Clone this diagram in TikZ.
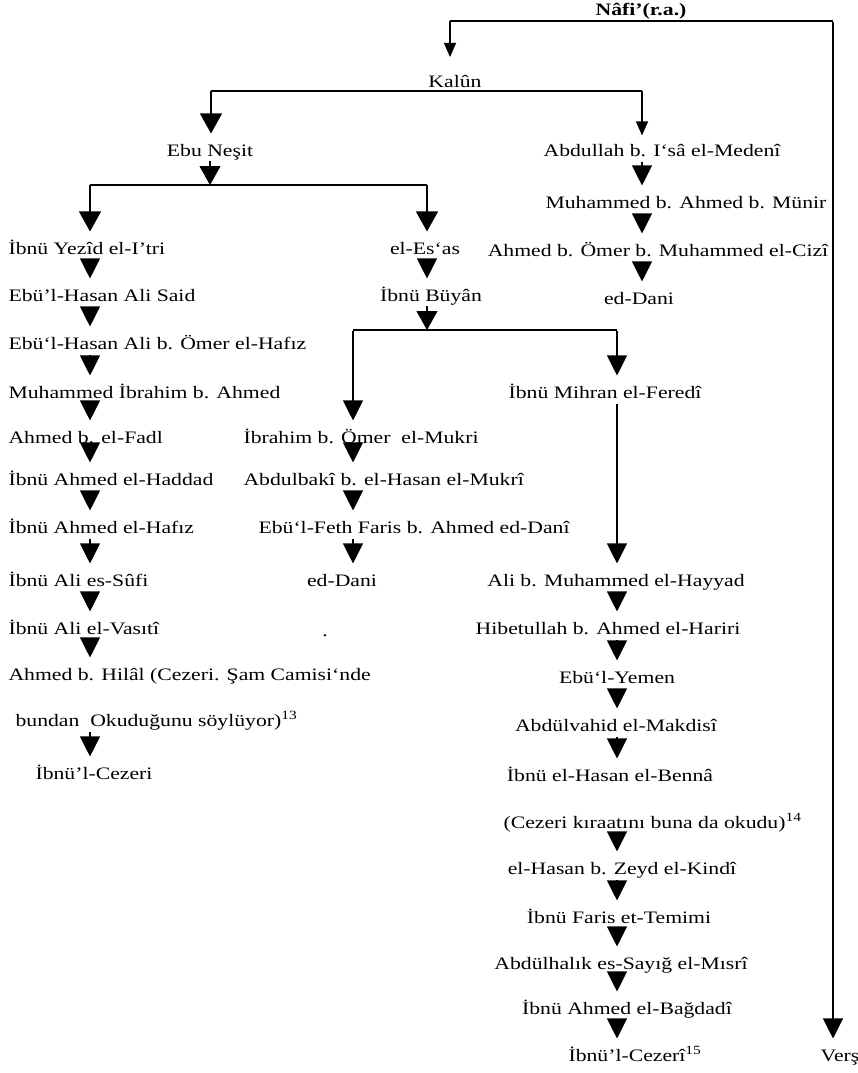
\documentclass[tikz,border=0pt]{standalone}
\usepackage{fontspec}
\setmainfont{Liberation Serif}[FakeStretch=1.24]
\usetikzlibrary{arrows.meta}
\newcommand{\fnmark}[1]{\raisebox{6.5pt}{\fontsize{12.5}{12.5}\selectfont #1}}
\begin{document}
\begin{tikzpicture}[x=1pt,y=-1pt,line width=1.1pt,
  font=\fontsize{17.5}{20}\selectfont,
  t/.style={inner sep=0pt,text height=12pt,text depth=4pt},
  tw/.style={t,anchor=west},
  ar/.style={-{Triangle[length=20pt,width=20pt]},shorten >=10pt,shorten <=1pt},
  arb/.style={-{Triangle[length=20pt,width=22pt]},shorten >=10pt},
  ars/.style={-{Triangle[length=14pt,width=12pt]}},
  tri/.style={-{Triangle[length=19pt,width=21pt]}}]
\fill[white] (0,0) rectangle (858,1073);
\useasboundingbox (0,0) rectangle (858,1073);
% columns
\coordinate (cL) at (90,0);
\coordinate (cM) at (427,0);
\coordinate (cR) at (642,0);
\coordinate (cB) at (353,0);
\coordinate (cC) at (617,0);
% top
\node[t] (nafi) at (641,12) {\bfseries Nâfi’(r.a.)};
\node[t] (kalun) at (455,83) {Kalûn};
\node[t] (ebu) at (210,152) {Ebu Neşit};
\node[t] (abd) at (662,152) {Abdullah b. I‘sâ el-Medenî};
\node[t] (munir) at (686,204) {Muhammed b. Ahmed b. Münir};
\node[t] (cizi) at (658,252) {Ahmed b. Ömer b. Muhammed el-Cizî};
\node[t] (dani1) at (639,300) {ed-Dani};
% left chain
\node[tw] (yezid) at (8,250) {İbnü Yezîd el-I’tri};
\node[tw] (said) at (8,297) {Ebü’l-Hasan Ali Said};
\node[tw] (hafiz1) at (8,345) {Ebü‘l-Hasan Ali b. Ömer el-Hafız};
\node[tw] (mibr) at (8,394) {Muhammed İbrahim b. Ahmed};
\node[tw] (fadl) at (8,439) {Ahmed b. el-Fadl};
\node[tw] (haddad) at (8,481) {İbnü Ahmed el-Haddad};
\node[tw] (hafiz2) at (8,529) {İbnü Ahmed el-Hafız};
\node[tw] (sufi) at (8,582) {İbnü Ali es-Sûfi};
\node[tw] (vasiti) at (8,630) {İbnü Ali el-Vasıtî};
\node[tw] (hilal) at (8,676) {Ahmed b. Hilâl (Cezeri. Şam Camisi‘nde};
\node[tw] (bundan) at (15,722) {bundan~ Okuduğunu söylüyor)\fnmark{13}};
\node[tw] (cezL) at (35,775) {İbnü’l-Cezeri};
% middle
\node[t] (eses) at (425,250) {el-Es‘as};
\node[t] (buyan) at (431,297) {İbnü Büyân};
\node[tw] (ibrahim) at (243,439) {İbrahim b. Ömer~ el-Mukri};
\node[tw] (baki) at (243,481) {Abdulbakî b. el-Hasan el-Mukrî};
\node[tw] (feth) at (258,529) {Ebü‘l-Feth Faris b. Ahmed ed-Danî};
\node[t] (dani2) at (342,582) {ed-Dani};
\node[t] (dot) at (325,632) {.};
% right chain
\node[t] (mihran) at (605,394) {İbnü Mihran el-Feredî};
\node[t] (hayyad) at (616,582) {Ali b. Muhammed el-Hayyad};
\node[t] (hibe) at (608,630) {Hibetullah b. Ahmed el-Hariri};
\node[t] (yemen) at (617,679) {Ebü‘l-Yemen};
\node[t] (makdisi) at (616,727) {Abdülvahid el-Makdisî};
\node[t] (benna) at (610,777) {İbnü el-Hasan el-Bennâ};
\node[tw] (kiraat) at (503,824) {(Cezeri kıraatını buna da okudu)\fnmark{14}};
\node[t] (kindi) at (622,870) {el-Hasan b. Zeyd el-Kindî};
\node[t] (temimi) at (619,919) {İbnü Faris et-Temimi};
\node[t] (misri) at (621,965) {Abdülhalık es-Sayığ el-Mısrî};
\node[t] (bagdadi) at (627,1010) {İbnü Ahmed el-Bağdadî};
\node[tw] (cezR) at (568,1057) {İbnü’l-Cezerî\fnmark{15}};
\node[t] (vers) at (840,1057) {Verş};
% Nafi lines
\coordinate (nL) at (450,21);
\coordinate (nR) at (833,21);
\draw (nL) -- (nR);
\draw[ars] (nL) -- ++(0,36);
\draw[ar] (nR) -- (vers.north -| nR);
% Kalun lines
\coordinate (kL) at (211,91);
\coordinate (kR) at (642,91);
\draw (kL) -- (kR);
\draw[arb] (kL) -- (ebu.north -| kL);
\draw[ars,shorten >=8pt] (kR) -- (abd.north -| kR);
% right top chain
\draw[ar] (abd.south -| cR) -- (munir.north -| cR);
\draw[ar] (munir.south -| cR) -- (cizi.north -| cR);
\draw[ar] (cizi.south -| cR) -- (dani1.north -| cR);
% Ebu Nesit split
\coordinate (eL) at (90,185);
\coordinate (eR) at (427,185);
\draw[tri] (ebu.south) -- (ebu.south |- eL);
\draw (eL) -- (eR);
\draw[arb] (eL) -- (yezid.north -| eL);
\draw[arb] (eR) -- (eses.north -| eR);
% left chain arrows
\draw[ar] (yezid.south -| cL) -- (said.north -| cL);
\draw[ar] (said.south -| cL) -- (hafiz1.north -| cL);
\draw[ar] (hafiz1.south -| cL) -- (mibr.north -| cL);
\draw[ar] (mibr.south -| cL) -- (fadl.north -| cL);
\draw[ar] (fadl.south -| cL) -- (haddad.north -| cL);
\draw[ar] (haddad.south -| cL) -- (hafiz2.north -| cL);
\draw[ar] (hafiz2.south -| cL) -- (sufi.north -| cL);
\draw[ar] (sufi.south -| cL) -- (vasiti.north -| cL);
\draw[ar] (vasiti.south -| cL) -- (hilal.north -| cL);
\draw[ar] (bundan.south -| cL) -- (cezL.north -| cL);
% middle
\draw[ar] (eses.south -| cM) -- (buyan.north -| cM);
\coordinate (bL) at (353,330);
\coordinate (bR) at (617,330);
\draw[tri] (buyan.south -| cM) -- (cM |- bL);
\draw (bL) -- (bR);
\draw[ar] (bL) -- (ibrahim.north -| bL);
\draw[ar] (ibrahim.south -| cB) -- (baki.north -| cB);
\draw[ar] (baki.south -| cB) -- (feth.north -| cB);
\draw[ar] (feth.south -| cB) -- (dani2.north -| cB);
% right chain
\draw[ar] (bR) -- (mihran.north -| bR);
\draw[ar] (mihran.south -| cC) -- (hayyad.north -| cC);
\draw[ar] (hayyad.south -| cC) -- (hibe.north -| cC);
\draw[ar] (hibe.south -| cC) -- (yemen.north -| cC);
\draw[ar] (yemen.south -| cC) -- (makdisi.north -| cC);
\draw[ar] (makdisi.south -| cC) -- (benna.north -| cC);
\draw[ar] (kiraat.south -| cC) -- (kindi.north -| cC);
\draw[ar] (kindi.south -| cC) -- (temimi.north -| cC);
\draw[ar] (temimi.south -| cC) -- (misri.north -| cC);
\draw[ar] (misri.south -| cC) -- (bagdadi.north -| cC);
\draw[ar] (bagdadi.south -| cC) -- (cezR.north -| cC);
\end{tikzpicture}
\end{document}
